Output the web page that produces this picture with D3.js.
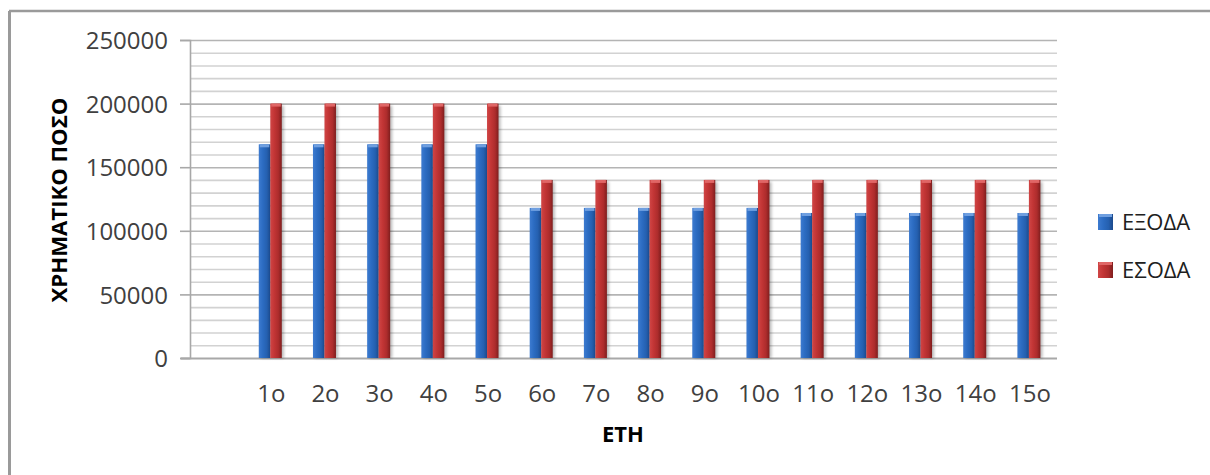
<!DOCTYPE html>
<html>
<head>
<meta charset="utf-8">
<script src="https://cdn.jsdelivr.net/npm/d3@7"></script>
<style>
  body { margin: 0; background: #fff; }
  text { font-family: "Open Sans", "DejaVu Sans", sans-serif; }
</style>
</head>
<body>
<div id="chart"></div>
<script>
const years = ["", "1ο", "2ο", "3ο", "4ο", "5ο", "6ο", "7ο", "8ο", "9ο", "10ο", "11ο", "12ο", "13ο", "14ο", "15ο"];
const seriesNames = ["ΕΞΟΔΑ", "ΕΣΟΔΑ"];
const exoda = [null, 168000, 168000, 168000, 168000, 168000, 118000, 118000, 118000, 118000, 118000, 114000, 114000, 114000, 114000, 114000];
const esoda = [null, 200000, 200000, 200000, 200000, 200000, 140000, 140000, 140000, 140000, 140000, 140000, 140000, 140000, 140000, 140000];
const yTicks = [0, 50000, 100000, 150000, 200000, 250000];

const width = 1210, height = 475;
const plotL = 190, plotR = 1057, plotT = 40, plotB = 358;

const svg = d3.select("#chart").append("svg")
  .attr("width", width).attr("height", height);

const defs = svg.append("defs");
// cylinder-ish shading like the old excel bars
const grads = [
  { id: "gBlue", stops: ["#3d7bd0", "#2c6cc2", "#2560b0", "#1c4a8c"] },
  { id: "gRed", stops: ["#d04545", "#c23535", "#ad2c2c", "#7f1e1e"] }
];
grads.forEach(g => {
  const lg = defs.append("linearGradient").attr("id", g.id)
    .attr("x1", 0).attr("x2", 1).attr("y1", 0).attr("y2", 0);
  [0, 0.35, 0.7, 1].forEach((o, i) => lg.append("stop").attr("offset", o).attr("stop-color", g.stops[i]));
});
defs.append("filter").attr("id", "shadow").attr("x", "-50%").attr("width", "200%")
  .append("feGaussianBlur").attr("stdDeviation", 1.6);

// outer frame (only top and left visible)
svg.append("line").attr("x1", 9).attr("x2", width).attr("y1", 11).attr("y2", 11)
  .attr("stroke", "#9a9a9a").attr("stroke-width", 2.5);
svg.append("line").attr("x1", 9.5).attr("x2", 9.5).attr("y1", 11).attr("y2", height)
  .attr("stroke", "#9a9a9a").attr("stroke-width", 3);

const x = d3.scaleBand().domain(years).range([plotL, plotR]);
const bw = x.bandwidth();
const barW = 11.5;
const x1 = d3.scaleBand().domain(seriesNames)
  .range([bw / 2 - barW - 1, bw / 2 + barW - 1]);
const y = d3.scaleLinear().domain([0, 250000]).range([plotB, plotT]);

// gridlines, minor every 10000
const minor = d3.range(10000, 250001, 10000).filter(v => v % 50000 !== 0);
svg.append("g").selectAll("line").data(minor).join("line")
  .attr("x1", plotL).attr("x2", plotR)
  .attr("y1", d => y(d) + 0.5).attr("y2", d => y(d) + 0.5)
  .attr("stroke", "#d2d2d2").attr("stroke-width", 1.6);
svg.append("g").selectAll("line").data(yTicks.filter(v => v > 0)).join("line")
  .attr("x1", plotL).attr("x2", plotR)
  .attr("y1", d => y(d) + 0.5).attr("y2", d => y(d) + 0.5)
  .attr("stroke", "#b4b4b4").attr("stroke-width", 1.6);

// y axis
const yAxis = svg.append("g").attr("transform", `translate(${plotL},0)`)
  .call(d3.axisLeft(y).tickValues(yTicks).tickSize(10).tickPadding(12).tickFormat(d3.format("d")));
yAxis.select(".domain").attr("stroke", "#a8a8a8").attr("stroke-width", 1.6);
yAxis.selectAll(".tick line").attr("stroke", "#a8a8a8").attr("stroke-width", 1.6);
yAxis.selectAll(".tick text").attr("fill", "#404040")
  .style("font-size", "24px").attr("dy", "0.36em");

// x axis
svg.append("line").attr("x1", 181).attr("x2", plotR)
  .attr("y1", plotB + 0.5).attr("y2", plotB + 0.5)
  .attr("stroke", "#a8a8a8").attr("stroke-width", 1.8);
svg.append("g").selectAll("text").data(years).join("text")
  .attr("x", d => x(d) + bw / 2)
  .attr("y", 402)
  .attr("text-anchor", "middle")
  .attr("fill", "#404040")
  .style("font-size", "24px")
  .text(d => d);

// bars
const series = [
  { name: seriesNames[0], values: exoda, fill: "url(#gBlue)", cap: "#6f9fe0" },
  { name: seriesNames[1], values: esoda, fill: "url(#gRed)", cap: "#e06666" }
];
series.forEach(s => {
  const pts = years.map((c, i) => ({ c, v: s.values[i] })).filter(d => d.v != null);
  const g = svg.append("g");
  g.selectAll("rect.sh").data(pts).join("rect").attr("class", "sh")
    .attr("x", d => x(d.c) + x1(s.name) + 2)
    .attr("y", d => y(d.v) + 2)
    .attr("width", barW)
    .attr("height", d => plotB - y(d.v) - 2)
    .attr("fill", "#000").attr("opacity", 0.28)
    .attr("filter", "url(#shadow)");
  g.selectAll("rect.bar").data(pts).join("rect").attr("class", "bar")
    .attr("x", d => x(d.c) + x1(s.name))
    .attr("y", d => y(d.v))
    .attr("width", barW)
    .attr("height", d => plotB - y(d.v))
    .attr("fill", s.fill);
  g.selectAll("rect.cap").data(pts).join("rect").attr("class", "cap")
    .attr("x", d => x(d.c) + x1(s.name) + 1)
    .attr("y", d => y(d.v))
    .attr("width", barW - 2)
    .attr("height", 3)
    .attr("fill", s.cap);
});

// axis titles
svg.append("text")
  .attr("transform", "translate(67,200) rotate(-90)")
  .attr("text-anchor", "middle")
  .attr("fill", "#000")
  .style("font-size", "21px").style("font-weight", "bold")
  .attr("textLength", 205).attr("lengthAdjust", "spacingAndGlyphs")
  .text("ΧΡΗΜΑΤΙΚΟ ΠΟΣΟ");
svg.append("text")
  .attr("x", 623).attr("y", 442)
  .attr("text-anchor", "middle")
  .attr("fill", "#000")
  .style("font-size", "22px").style("font-weight", "bold")
  .text("ΕΤΗ");

// legend
const legend = svg.append("g").selectAll("g").data(series).join("g")
  .attr("transform", (d, i) => `translate(1098,${214 + i * 48})`);
legend.append("rect").attr("width", 15).attr("height", 16).attr("fill", d => d.fill);
legend.append("rect").attr("x", 1).attr("width", 13).attr("height", 3).attr("fill", d => d.cap);
legend.append("text").attr("x", 24).attr("y", 8).attr("dy", "0.36em")
  .attr("fill", "#202020").style("font-size", "22px")
  .text(d => d.name);
</script>
</body>
</html>
